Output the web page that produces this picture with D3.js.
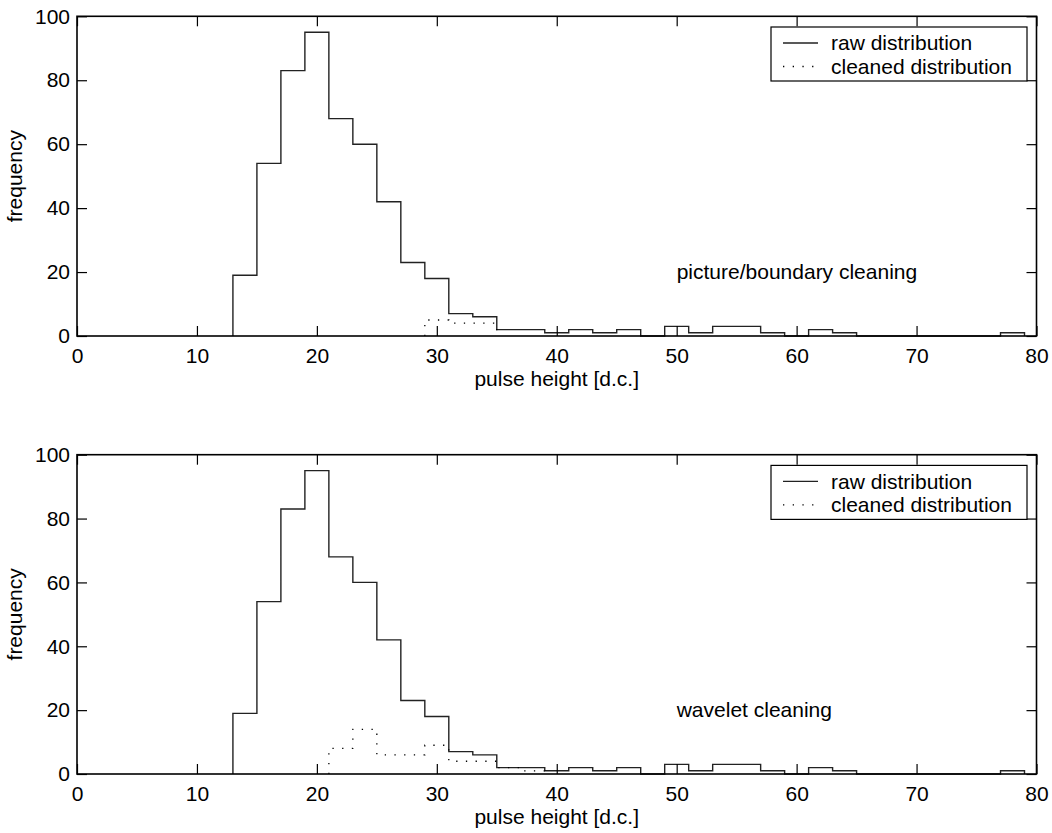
<!DOCTYPE html>
<html>
<head>
<meta charset="utf-8">
<script src="https://cdn.jsdelivr.net/npm/d3@7"></script>
<style>
  html, body { margin: 0; padding: 0; background: #fff; }
  svg { display: block; font-family: "Liberation Sans", Arial, Helvetica, sans-serif; }
</style>
</head>
<body>
<svg id="chart" width="1052" height="833"></svg>
<script>
// ---- data ----
const binEdges = [13,15,17,19,21,23,25,27,29,31,33,35,37,39,41,43,45,47,49,51,53,55,57,59,61,63,65,67,69,71,73,75,77,79];
const rawValues = [19,54,83,95,68,60,42,23,18,7,6,2,2,1,2,1,2,0,3,1,3,3,1,0,2,1,0,0,0,0,0,0,1];
const cleanedTopEdges = [29,31,33,35];
const cleanedTopValues = [5,4,4];
const cleanedBottomEdges = [21,23,25,27,29,31,33,35,37,39];
const cleanedBottomValues = [8,14,6,6,9,4,4,2,1];
const xTicks = [0,10,20,30,40,50,60,70,80];
const yTicks = [0,20,40,60,80,100];
const legendLabels = ["raw distribution", "cleaned distribution"];
const panelTitles = ["picture/boundary cleaning", "wavelet cleaning"];
const xLabel = "pulse height [d.c.]";
const yLabel = "frequency";

const panels = [
  { top: 16.3, bottom: 336, cEdges: cleanedTopEdges, cValues: cleanedTopValues, title: panelTitles[0] },
  { top: 454.7, bottom: 774, cEdges: cleanedBottomEdges, cValues: cleanedBottomValues, title: panelTitles[1] }
];

const svg = d3.select("#chart");
const left = 77, right = 1036.5;
const FS = 21;

function stairPoints(edges, values) {
  const pts = [[edges[0], 0]];
  values.forEach((v, i) => pts.push([edges[i], v]));
  pts.push([edges[edges.length - 1], 0]);
  return pts;
}

panels.forEach(p => {
  const x = d3.scaleLinear().domain([0, 80]).range([left, right]);
  const y = d3.scaleLinear().domain([0, 100]).range([p.bottom, p.top]);
  const g = svg.append("g");

  const line = d3.line().x(d => x(d[0])).y(d => y(d[1])).curve(d3.curveStepAfter);

  // raw
  g.append("path")
    .attr("d", line(stairPoints(binEdges, rawValues)))
    .attr("fill", "none").attr("stroke", "#222").attr("stroke-width", 1.4);
  // cleaned
  g.append("path")
    .attr("d", line(stairPoints(p.cEdges, p.cValues)))
    .attr("fill", "none").attr("stroke", "#000").attr("stroke-width", 1.3)
    .attr("stroke-dasharray", "1.3,8.4");

  // axes
  const ax = [
    d3.axisBottom(x).tickValues(xTicks).tickSizeInner(-10).tickSizeOuter(0).tickPadding(12),
    d3.axisTop(x).tickValues(xTicks).tickSizeInner(-10).tickSizeOuter(0).tickFormat(""),
    d3.axisLeft(y).tickValues(yTicks).tickSizeInner(-10).tickSizeOuter(0).tickPadding(7),
    d3.axisRight(y).tickValues(yTicks).tickSizeInner(-10).tickSizeOuter(0).tickFormat("")
  ];
  const pos = [
    `translate(0,${p.bottom})`, `translate(0,${p.top})`,
    `translate(${left},0)`, `translate(${right},0)`
  ];
  ax.forEach((a, i) => {
    const ag = g.append("g").attr("transform", pos[i]).call(a);
    ag.select(".domain").remove();
    ag.selectAll(".tick line").attr("stroke", "#000").attr("stroke-width", 1.2);
    ag.selectAll(".tick text").attr("font-size", FS).attr("fill", "#000")
      .attr("font-family", "Liberation Sans, Arial, sans-serif");
  });

  // box
  g.append("rect")
    .attr("x", left).attr("y", p.top)
    .attr("width", right - left).attr("height", p.bottom - p.top)
    .attr("fill", "none").attr("stroke", "#000").attr("stroke-width", 1.6);

  // labels
  g.append("text")
    .attr("x", (left + right) / 2).attr("y", p.bottom + 50)
    .attr("text-anchor", "middle").attr("font-size", FS).text(xLabel);
  g.append("text")
    .attr("transform", `translate(22,${(p.top + p.bottom) / 2}) rotate(-90)`)
    .attr("text-anchor", "middle").attr("font-size", FS).text(yLabel);

  // panel annotation
  g.append("text")
    .attr("x", x(50)).attr("y", y(20)).attr("dy", "0.35em")
    .attr("font-size", FS).text(p.title);

  // legend
  const lg = g.append("g").attr("transform", `translate(771,${p.top + 10.7})`);
  lg.append("rect").attr("x", 0).attr("y", 0).attr("width", 256).attr("height", 54)
    .attr("fill", "#fff").attr("stroke", "#000").attr("stroke-width", 1.2);
  lg.append("line").attr("x1", 12).attr("x2", 47).attr("y1", 16).attr("y2", 16)
    .attr("stroke", "#222").attr("stroke-width", 1.4);
  lg.append("line").attr("x1", 12).attr("x2", 47).attr("y1", 39.5).attr("y2", 39.5)
    .attr("stroke", "#000").attr("stroke-width", 1.3).attr("stroke-dasharray", "1.3,8.4");
  legendLabels.forEach((t, i) => {
    lg.append("text").attr("x", 60).attr("y", 16 + i * 23.5).attr("dy", "0.35em")
      .attr("font-size", FS).text(t);
  });
});
</script>
</body>
</html>
